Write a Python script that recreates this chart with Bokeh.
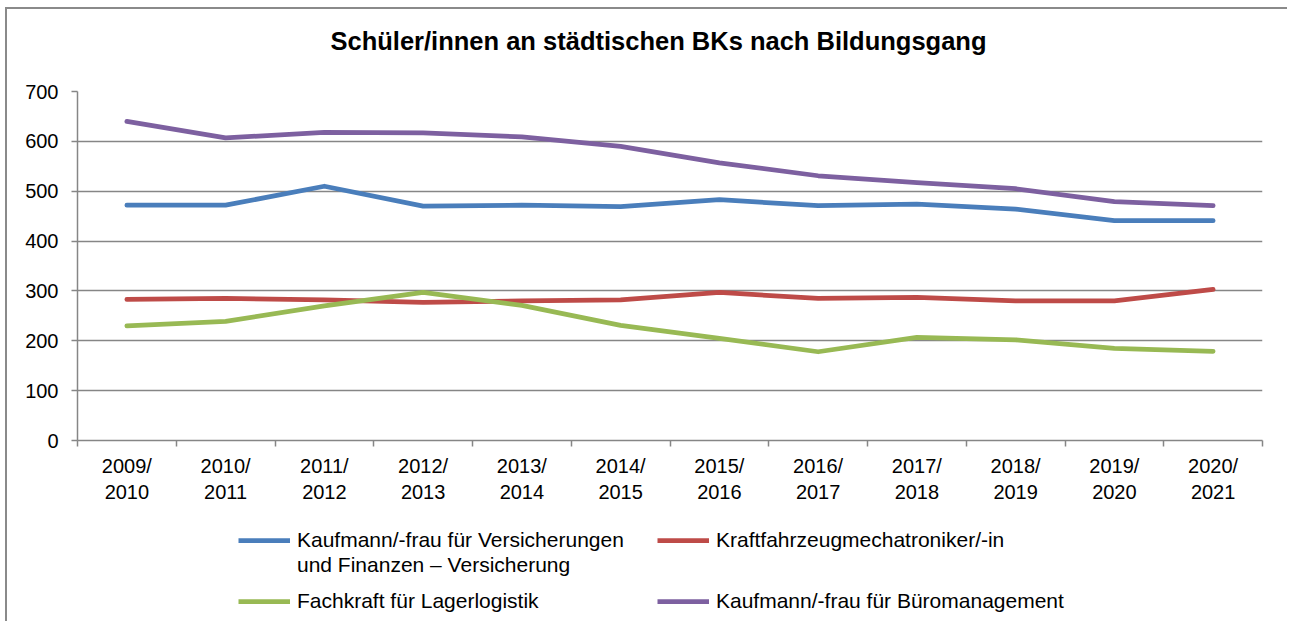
from bokeh.plotting import figure
from bokeh.models import FixedTicker, Range1d, Legend, LegendItem, Label
from bokeh.layouts import column
from bokeh.embed import file_html
from bokeh.resources import INLINE

# ---- data ----
title = "Schüler/innen an städtischen BKs nach Bildungsgang"
years = ["2009/\n2010", "2010/\n2011", "2011/\n2012", "2012/\n2013", "2013/\n2014", "2014/\n2015",
         "2015/\n2016", "2016/\n2017", "2017/\n2018", "2018/\n2019", "2019/\n2020", "2020/\n2021"]
versicherung = [472, 472, 510, 470, 472, 469, 483, 471, 474, 464, 441, 441]
kfz = [283, 285, 282, 277, 280, 282, 297, 285, 287, 280, 280, 303]
lager = [230, 239, 270, 297, 271, 231, 205, 178, 207, 202, 185, 179]
buero = [640, 607, 618, 617, 609, 590, 557, 531, 517, 505, 479, 471]
y_ticks = [0, 100, 200, 300, 400, 500, 600, 700]

label_versicherung = ["Kaufmann/-frau für Versicherungen", "und Finanzen – Versicherung"]
label_kfz = "Kraftfahrzeugmechatroniker/-in"
label_lager = "Fachkraft für Lagerlogistik"
label_buero = "Kaufmann/-frau für Büromanagement"
colors = ["#4a7ebb", "#be4b48", "#98b954", "#7d60a0"]

FONT = "Liberation Sans"
GRID = "#868686"
NAN = float("nan")
LW = 4.75


def blank_panel(h):
    f = figure(width=1280, height=h, output_backend="svg", toolbar_location=None,
               x_range=Range1d(0, 1), y_range=Range1d(0, 1),
               x_axis_type=None, y_axis_type=None,
               min_border_left=0, min_border_right=0, min_border_top=0, min_border_bottom=0)
    f.outline_line_color = None
    f.grid.visible = False
    f.background_fill_color = "white"
    f.border_fill_color = "white"
    return f


# ---- title panel ----
pt = blank_panel(60)
pt.add_layout(Label(x=581, y=29, x_units="screen", y_units="screen", text=title,
                    text_font=FONT, text_font_size="25.5px", text_font_style="bold",
                    text_color="black", text_align="center", text_baseline="middle"))

# ---- main chart ----
x = [i + 0.5 for i in range(len(years))]

p = figure(width=1280, height=446, output_backend="svg", toolbar_location=None,
           x_range=Range1d(0, len(years)), y_range=Range1d(0, 700),
           min_border_left=70, min_border_right=25, min_border_top=22, min_border_bottom=75)
p.outline_line_color = None
p.background_fill_color = "white"
p.border_fill_color = "white"

xa = p.xaxis[0]
xa.ticker = FixedTicker(ticks=x, minor_ticks=list(range(len(years) + 1)))
xa.major_label_overrides = {xi: lab for xi, lab in zip(x, years)}
xa.major_tick_out = 0
xa.major_tick_in = 0
xa.minor_tick_out = 6
xa.minor_tick_in = 0
xa.minor_tick_line_color = GRID
xa.minor_tick_line_width = 1.5
xa.axis_line_color = GRID
xa.axis_line_width = 1.5
xa.major_label_text_font = FONT
xa.major_label_text_font_size = "20px"
xa.major_label_text_color = "black"
xa.major_label_standoff = 8

ya = p.yaxis[0]
ya.ticker = FixedTicker(ticks=y_ticks)
ya.major_tick_out = 6
ya.major_tick_in = 0
ya.minor_tick_out = 0
ya.minor_tick_in = 0
ya.major_tick_line_color = GRID
ya.major_tick_line_width = 1.5
ya.axis_line_color = GRID
ya.axis_line_width = 1.5
ya.major_label_text_font = FONT
ya.major_label_text_font_size = "20px"
ya.major_label_text_color = "black"
ya.major_label_standoff = 13

p.xgrid.grid_line_color = None
p.ygrid.ticker = FixedTicker(ticks=y_ticks)
p.ygrid.grid_line_color = GRID
p.ygrid.grid_line_width = 1.5

for series, col in zip([versicherung, kfz, lager, buero], colors):
    p.line(x, series, line_color=col, line_width=LW, line_cap="round", line_join="round")

# ---- legend panel ----
pl = blank_panel(106)
k_vers, k_kfz, k_lager, k_buero = [pl.line([NAN], [NAN], line_color=col, line_width=LW)
                                   for col in colors]
k_blank = pl.line([NAN], [NAN], line_color="white", line_alpha=0, line_width=LW)


def make_legend(items, loc):
    lg = Legend(items=items, location=loc, ncols=2, orientation="horizontal")
    lg.label_text_font = FONT
    lg.label_text_font_size = "21px"
    lg.label_text_color = "black"
    lg.glyph_width = 52
    lg.glyph_height = 20
    lg.label_standoff = 7
    lg.label_width = 347
    lg.spacing = 13
    lg.padding = 0
    lg.margin = 0
    lg.border_line_color = None
    lg.background_fill_alpha = 0
    pl.add_layout(lg, "center")
    return lg


make_legend([LegendItem(label=label_versicherung[0], renderers=[k_vers]),
             LegendItem(label=label_kfz, renderers=[k_kfz])], (161, 69))
make_legend([LegendItem(label=label_versicherung[1], renderers=[k_blank])], (161, 44))
make_legend([LegendItem(label=label_lager, renderers=[k_lager]),
             LegendItem(label=label_buero, renderers=[k_buero])], (161, 8))

layout = column(pt, p, pl, spacing=0,
                styles={"margin-left": "5px", "margin-top": "7px",
                        "border-left": "2px solid #8a8a8a", "border-top": "2px solid #8a8a8a"})

open("out.html", "w").write(file_html(layout, INLINE))
